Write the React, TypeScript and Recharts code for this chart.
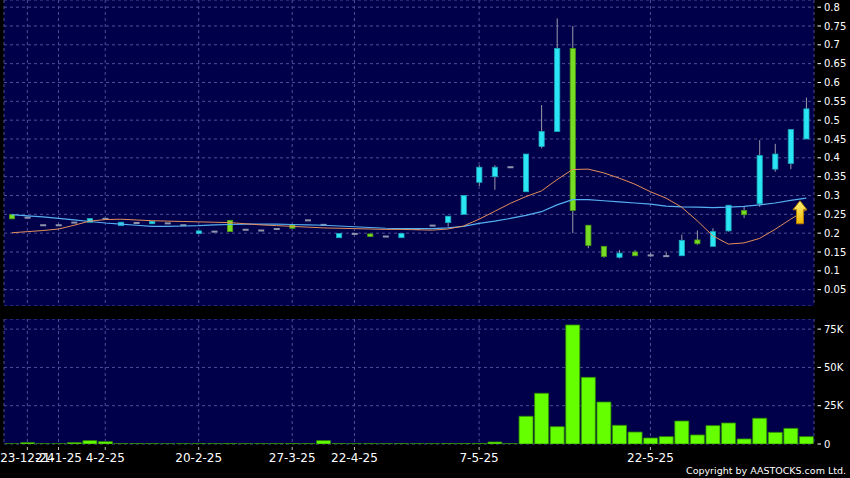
import { ComposedChart, Bar, Line, XAxis, YAxis, CartesianGrid, ReferenceDot } from 'recharts'

// candle index -> values
const opens = [0.249, 0.241, 0.221, 0.221, 0.228, 0.229, 0.238, 0.22, 0.227, 0.225, 0.226, 0.221, 0.199, 0.204, 0.234, 0.209, 0.207, 0.211, 0.222, 0.234, 0.222, 0.188, 0.198, 0.198, 0.191, 0.188, 0.211, 0.22, 0.228, 0.25, 0.335, 0.35, 0.375, 0.31, 0.43, 0.47, 0.69, 0.221, 0.165, 0.136, 0.15, 0.141, 0.139, 0.14, 0.182, 0.165, 0.206, 0.26, 0.278, 0.37, 0.385, 0.45]
const highs = [0.249, 0.241, 0.221, 0.221, 0.228, 0.239, 0.238, 0.229, 0.227, 0.231, 0.226, 0.221, 0.206, 0.204, 0.234, 0.209, 0.207, 0.211, 0.222, 0.234, 0.222, 0.199, 0.198, 0.198, 0.191, 0.199, 0.211, 0.22, 0.245, 0.3, 0.38, 0.38, 0.375, 0.41, 0.54, 0.77, 0.75, 0.221, 0.165, 0.155, 0.155, 0.148, 0.149, 0.196, 0.207, 0.213, 0.274, 0.27, 0.447, 0.437, 0.475, 0.56]
const lows = [0.238, 0.241, 0.221, 0.221, 0.228, 0.229, 0.238, 0.22, 0.227, 0.225, 0.226, 0.221, 0.199, 0.204, 0.204, 0.209, 0.207, 0.211, 0.213, 0.234, 0.222, 0.188, 0.198, 0.191, 0.191, 0.188, 0.211, 0.22, 0.217, 0.25, 0.325, 0.315, 0.375, 0.31, 0.425, 0.47, 0.2, 0.16, 0.135, 0.133, 0.14, 0.137, 0.139, 0.14, 0.169, 0.165, 0.204, 0.24, 0.27, 0.363, 0.37, 0.45]
const closes = [0.238, 0.241, 0.221, 0.221, 0.228, 0.239, 0.238, 0.229, 0.227, 0.231, 0.226, 0.221, 0.206, 0.204, 0.204, 0.209, 0.207, 0.211, 0.213, 0.234, 0.222, 0.199, 0.198, 0.191, 0.191, 0.199, 0.211, 0.22, 0.245, 0.3, 0.375, 0.375, 0.375, 0.41, 0.47, 0.69, 0.26, 0.167, 0.138, 0.147, 0.14, 0.141, 0.139, 0.181, 0.172, 0.204, 0.274, 0.249, 0.406, 0.41, 0.475, 0.53]
const volumes = [100, 900, 150, 150, 900, 2200, 1500, 200, 200, 200, 100, 150, 200, 150, 300, 150, 150, 200, 300, 200, 2200, 200, 150, 200, 150, 200, 150, 150, 300, 300, 300, 1300, 200, 18100, 33100, 11300, 77700, 43500, 27400, 12200, 7800, 3900, 4800, 15000, 5900, 12000, 13700, 3300, 16800, 7600, 10200, 4800]
const maShort = [0.201, 0.204, 0.207, 0.211, 0.221, 0.232, 0.236, 0.237, 0.235, 0.233, 0.232, 0.231, 0.23, 0.229, 0.228, 0.225, 0.222, 0.22, 0.218, 0.216, 0.214, 0.213, 0.212, 0.211, 0.21, 0.21, 0.209, 0.208, 0.211, 0.219, 0.237, 0.258, 0.279, 0.297, 0.312, 0.342, 0.369, 0.37, 0.36, 0.346, 0.33, 0.31, 0.293, 0.269, 0.233, 0.193, 0.171, 0.174, 0.186, 0.21, 0.237, 0.262]
const maLong = [0.249, 0.246, 0.243, 0.239, 0.235, 0.231, 0.227, 0.224, 0.221, 0.218, 0.218, 0.219, 0.22, 0.222, 0.223, 0.224, 0.224, 0.224, 0.223, 0.222, 0.221, 0.219, 0.217, 0.215, 0.213, 0.212, 0.212, 0.212, 0.214, 0.218, 0.226, 0.232, 0.239, 0.247, 0.257, 0.275, 0.289, 0.289, 0.286, 0.283, 0.28, 0.277, 0.272, 0.27, 0.269, 0.268, 0.269, 0.271, 0.275, 0.28, 0.287, 0.293]

const dateTicks = [1, 3, 6, 12, 18, 22, 30, 41]
const dateLabels = ['23-12-24', '21-1-25', '4-2-25', '20-2-25', '27-3-25', '22-4-25', '7-5-25', '22-5-25']
const priceTicks = [0.05, 0.1, 0.15, 0.2, 0.25, 0.3, 0.35, 0.4, 0.45, 0.5, 0.55, 0.6, 0.65, 0.7, 0.75, 0.8]
const volumeTicks = [0, 25000, 50000, 75000]
const volumeLabels = ['0', '25K', '50K', '75K']
const signalArrow = { x: 50.6, y: 0.286 }

const PRICE_MIN = 0.0066
const PRICE_MAX = 0.819
const VOL_MAX = 81600
const FONT = '"DejaVu Sans", sans-serif'
const PANEL = '#00004a'
const GRID = '#4e4e92'

const rows = opens.map((open, i) => ({
  i,
  open,
  high: highs[i],
  low: lows[i],
  close: closes[i],
  range: [lows[i], highs[i]],
  vol: volumes[i],
  maShort: maShort[i],
  maLong: maLong[i],
}))

function Candle(props: any) {
  const { x, y, width, height, payload } = props
  if (!payload) return null
  const { open, close, high, low } = payload
  const span = high - low
  const py = (v: number) => (span > 0 ? y + ((high - v) / span) * height : y)
  const cx = x + width / 2
  const top = py(Math.max(open, close))
  const bottom = py(Math.min(open, close))
  return (
    <g>
      {span > 0 && <line x1={cx} x2={cx} y1={py(high)} y2={py(low)} stroke="#9a9aaa" strokeWidth={1} />}
      {open === close ? (
        <rect x={cx - 3} y={top - 1} width={6} height={2} fill="#8f94aa" />
      ) : (
        <rect
          x={cx - 2.6}
          y={top}
          width={5.2}
          height={Math.max(bottom - top, 1)}
          fill={close > open ? '#2ae6f5' : '#78dc24'}
          stroke={close > open ? '#1aa8b8' : '#4a9a14'}
          strokeWidth={0.8}
        />
      )}
    </g>
  )
}

function Arrow(props: any) {
  const { cx, cy } = props
  const pts = [
    [0, 0], [7, 9], [3.5, 9], [3.5, 23], [-3.5, 23], [-3.5, 9], [-7, 9],
  ].map(([dx, dy]) => `${cx + dx},${cy + dy}`).join(' ')
  return (
    <g>
      <defs>
        <linearGradient id="arrowFill" x1="0" y1="0" x2="0" y2="1">
          <stop offset="0%" stopColor="#fff47a" />
          <stop offset="100%" stopColor="#f0b400" />
        </linearGradient>
      </defs>
      <polygon points={pts} fill="url(#arrowFill)" stroke="#b07a00" strokeWidth={1} />
    </g>
  )
}

function AxisTick(props: any) {
  const { x, y, payload, labels } = props
  const v = payload.value
  const text = labels ? labels[volumeTicks.indexOf(v)] : String(Number(v.toFixed(2)))
  return (
    <g>
      <line x1={x + 3.5} x2={x + 7} y1={y} y2={y} stroke="#ffffff" />
      <text x={x + 10} y={y} dy="0.36em" fill="#ffffff" fontSize={10} fontFamily={FONT}>
        {text}
      </text>
    </g>
  )
}

function DateTick(props: any) {
  const { x, y, payload } = props
  const label = dateLabels[dateTicks.indexOf(payload.value)]
  return (
    <g>
      <line x1={x} x2={x} y1={y + 3} y2={y + 6} stroke="#bbbbbb" />
      <text x={x} y={y + 18} textAnchor="middle" fill="#ffffff" fontSize={12} fontFamily={FONT}>
        {label}
      </text>
    </g>
  )
}

export default function App() {
  return (
    <div style={{ position: 'absolute', left: 0, top: 0, width: 850, height: 478, background: '#000', overflow: 'hidden' }}>
      <div style={{ position: 'absolute', left: 0, top: 0 }}>
        <ComposedChart width={850} height={306} data={rows} margin={{ top: 0, right: 0, bottom: 0, left: 4 }}>
          <CartesianGrid fill={PANEL} stroke={GRID} strokeDasharray="3 3" />
          <XAxis dataKey="i" type="number" domain={[-0.5, 51.5]} ticks={dateTicks} hide />
          <YAxis
            orientation="right"
            width={36}
            type="number"
            domain={[PRICE_MIN, PRICE_MAX]}
            allowDataOverflow
            ticks={priceTicks}
            interval={0}
            axisLine={false}
            tickLine={false}
            tickSize={0}
            tickMargin={0}
            tick={<AxisTick />}
          />
          <Line dataKey="maLong" stroke="#55b0f2" strokeWidth={1.2} dot={false} isAnimationActive={false} />
          <Line dataKey="maShort" stroke="#e38e5c" strokeWidth={1} dot={false} isAnimationActive={false} />
          <Bar dataKey="range" barSize={6} shape={<Candle />} isAnimationActive={false} />
          <ReferenceDot x={signalArrow.x} y={signalArrow.y} shape={<Arrow />} />
        </ComposedChart>
      </div>
      <div style={{ position: 'absolute', left: 0, top: 319 }}>
        <ComposedChart width={850} height={159} data={rows} margin={{ top: 0, right: 0, bottom: 0, left: 4 }}>
          <CartesianGrid fill={PANEL} stroke={GRID} strokeDasharray="3 3" />
          <XAxis
            dataKey="i"
            type="number"
            domain={[-0.5, 51.5]}
            ticks={dateTicks}
            interval={0}
            height={34}
            axisLine={false}
            tickLine={false}
            tickSize={0}
            tickMargin={0}
            tick={<DateTick />}
          />
          <YAxis
            orientation="right"
            width={36}
            type="number"
            domain={[0, VOL_MAX]}
            allowDataOverflow
            ticks={volumeTicks}
            interval={0}
            axisLine={false}
            tickLine={false}
            tickSize={0}
            tickMargin={0}
            tick={<AxisTick labels={volumeLabels} />}
          />
          <Bar dataKey="vol" barSize={14} fill="#66ff00" stroke="#2f8a00" strokeWidth={0.8} isAnimationActive={false} />
        </ComposedChart>
      </div>
      <div
        style={{
          position: 'absolute',
          right: 4,
          top: 465,
          fontFamily: FONT,
          fontSize: 9.5,
          lineHeight: '11px',
          color: '#ffffff',
          whiteSpace: 'nowrap',
        }}
      >
        Copyright by AASTOCKS.com Ltd.
      </div>
    </div>
  )
}
